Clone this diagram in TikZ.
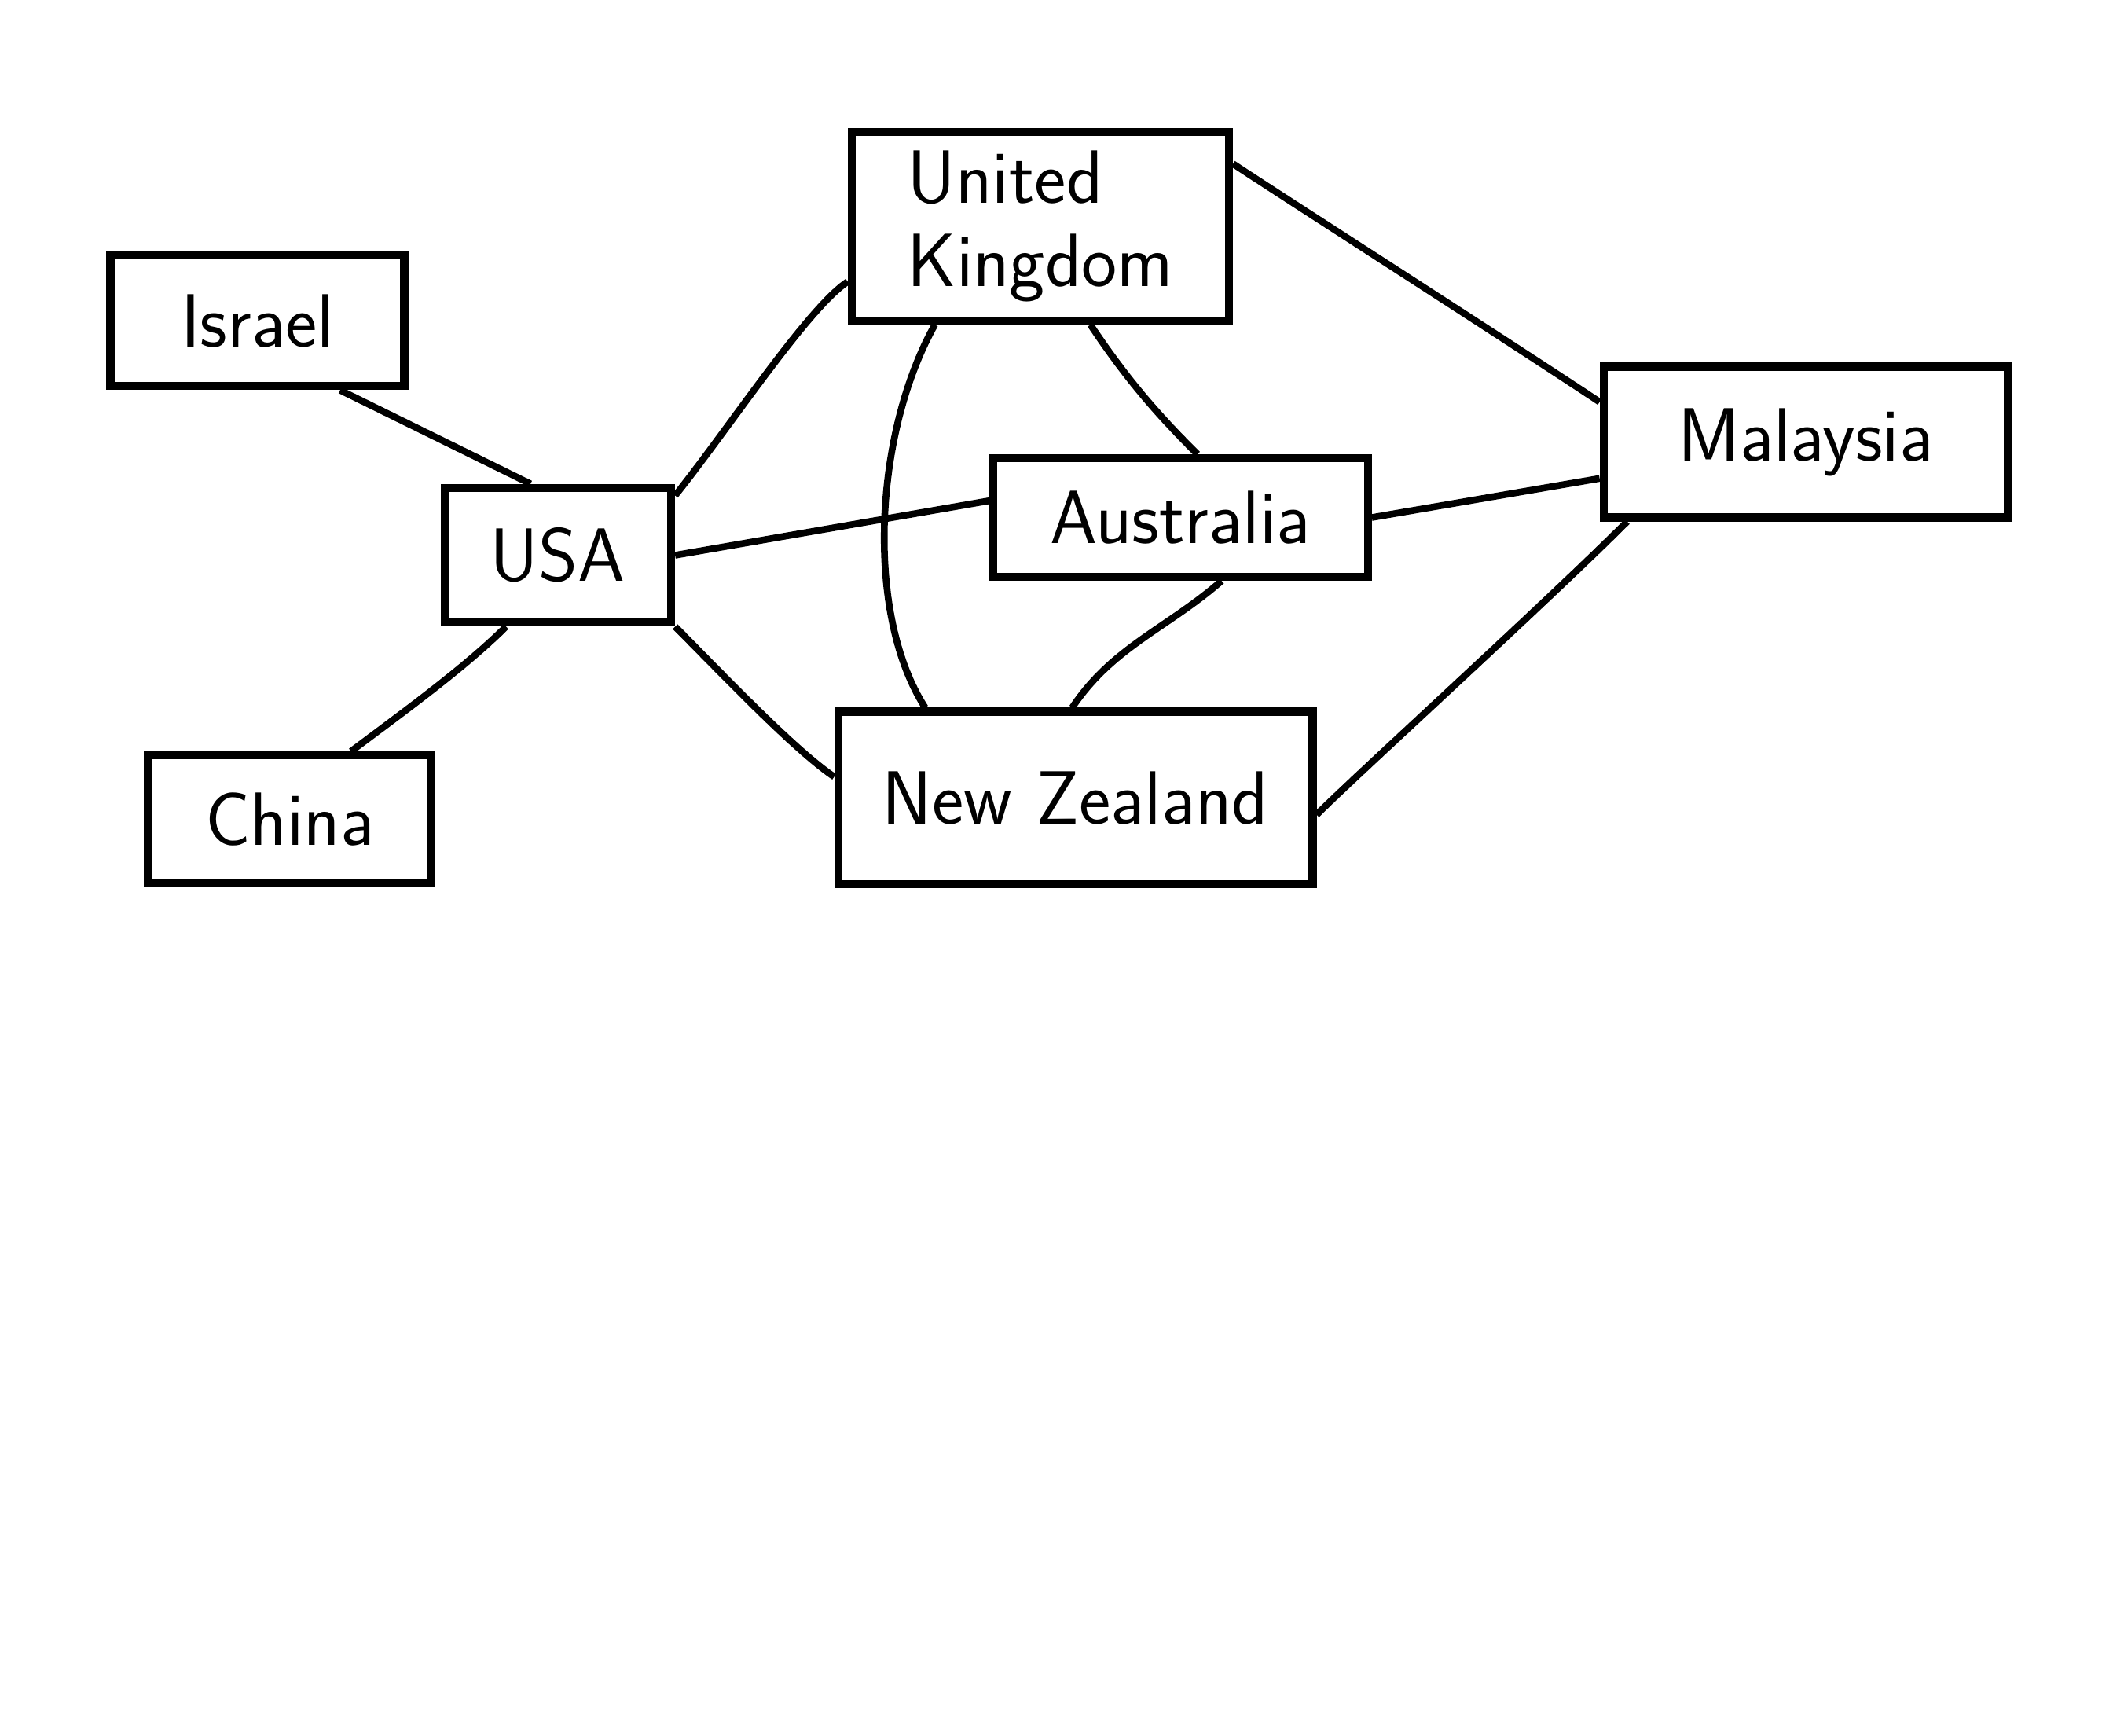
\documentclass[tikz,border=0pt]{standalone}
\tikzset{every picture/.style={line width=2.5pt}}
\tikzset{country/.style={draw, line width=3pt, inner sep=0pt, align=left, font=\sffamily\fontsize{28}{31}\selectfont}}

\begin{document}
\begin{tikzpicture}[x=0.5pt,y=0.5pt,yscale=-1,xscale=1]
\useasboundingbox (0,0) rectangle (1568,1288);

% Text Node
\node[country, minimum width=109pt, minimum height=48.5pt] (israel) at (191,238) {Israel};
% Text Node
\node[country, minimum width=84pt, minimum height=50pt] (usa) at (414,412) {USA};
% Text Node
\node[country, minimum width=105pt, minimum height=47.5pt] (china) at (215,608) {China};
% Text Node
\node[country, minimum width=140pt, minimum height=70pt] (uk) at (772,168) {United\\Kingdom};
% Text Node
\node[country, minimum width=139pt, minimum height=44pt] (australia) at (876,384) {Australia};
% Text Node
\node[country, minimum width=150pt, minimum height=56pt] (malaysia) at (1340,328) {Malaysia};
% Text Node
\node[country, minimum width=176pt, minimum height=64pt] (nz) at (798,592) {New Zealand};

%Straight Lines
\draw (israel.-40) -- (usa.111);
\draw (usa.-126) .. controls +(-30,30) and +(40,-30) .. (china.48);
\draw (usa.27) .. controls +(40,-50) and +(-30,20) .. (uk.-164);
\draw (usa.0) -- (australia.175);
\draw (usa.south east) .. controls +(30,30) and +(-30,-20) .. (nz.175);
%Curve Lines
\draw (uk.-137) .. controls +(-45,80) and +(-45,-70) .. (nz.149);
\draw (uk.-63) .. controls +(30,45) and +(-25,-25) .. (australia.75);
\draw (uk.18) .. controls +(30,20) and +(-60,-40) .. (malaysia.169);
\draw (australia.0) -- (malaysia.-170);
\draw (australia.-57) .. controls +(-40,35) and +(30,-45) .. (nz.92);
\draw (malaysia.-156) .. controls +(-60,60) and +(30,-30) .. (nz.-4);

\end{tikzpicture}
\end{document}
